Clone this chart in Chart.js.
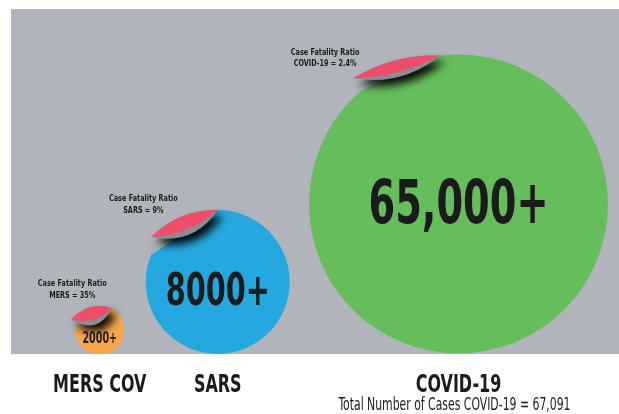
<!DOCTYPE html>
<html>
<head>
<meta charset="utf-8">
<script src="https://cdn.jsdelivr.net/npm/chart.js@4.4.1/dist/chart.umd.min.js"></script>
<style>
  body { margin: 0; background: #fff; }
</style>
</head>
<body>
<canvas id="bubbleChart" width="619" height="414"></canvas>
<script>
// values
const categories = ['MERS COV', 'SARS', 'COVID-19'];
const caseLabels = ['2000+', '8000+', '65,000+'];
const fatalityLabels = ['MERS = 35%', 'SARS = 9%', 'COVID-19 = 2.4%'];
const totalNote = 'Total Number of Cases COVID-19 = 67,091';
// bubble centre (x 0-100 across, y 0-100 up) and radius
const xValues = [14.6, 34.0, 73.6];
const yValues = [7.0, 20.9, 43.5];
const radii = [24.5, 72, 149.5];

const GRAY = '#b1b5bb';
const RED = '#ef4d6a';
const INK = '#1b1b1b';
const FONT = "'DejaVu Sans Condensed', 'Liberation Sans Narrow', sans-serif";
const SQUISH = 0.71;

// peeled corner of each bubble: chord angles (deg), flap turn/length/thickness,
// label offset from flap tip, number size and drop
const peel = [
  { a1: -175, a2: -61, rot: 12.5, k: 1.02, th: 13, lx: 1, ly: -22, num: 15, numDy: 13 },
  { a1: -158, a2: -90, rot: 11.8, k: 0.89, th: 14, lx: -8, ly: -24, num: 45, numDy: 23 },
  { a1: -131, a2: -97, rot: 9.4, k: 1.03, th: 12, lx: -28, ly: -12, num: 60, numDy: 19 }
];

function squishText(ctx, text, x, y, sx) {
  ctx.save();
  ctx.translate(x, y);
  ctx.scale(sx, 1);
  ctx.fillText(text, 0, 0);
  ctx.restore();
}

const peelPlugin = {
  id: 'peel',
  beforeDraw(chart) {
    const { ctx, chartArea: a } = chart;
    ctx.save();
    ctx.fillStyle = GRAY;
    ctx.fillRect(a.left, a.top, a.right - a.left, a.bottom - a.top);
    ctx.restore();
  },
  afterDatasetsDraw(chart) {
    const ctx = chart.ctx;
    const meta = chart.getDatasetMeta(0);
    meta.data.forEach((el, i) => {
      const cx = el.x, cy = el.y, r = el.options.radius;
      const p = peel[i];
      const t1 = p.a1 * Math.PI / 180, t2 = p.a2 * Math.PI / 180;
      const A = [cx + r * Math.cos(t1), cy + r * Math.sin(t1)];
      const B = [cx + r * Math.cos(t2), cy + r * Math.sin(t2)];

      ctx.save();
      // cut away the peeled cap
      ctx.beginPath();
      ctx.arc(cx, cy, r, t1, t2);
      ctx.closePath();
      ctx.fillStyle = GRAY;
      ctx.fill();

      // flap tip = chord end turned up around B
      const rot = p.rot * Math.PI / 180;
      const vx = A[0] - B[0], vy = A[1] - B[1];
      const L = [B[0] + p.k * (vx * Math.cos(rot) - vy * Math.sin(rot)),
                 B[1] + p.k * (vx * Math.sin(rot) + vy * Math.cos(rot))];
      const mx = (L[0] + B[0]) / 2, my = (L[1] + B[1]) / 2;
      let nx = -(B[1] - L[1]), ny = B[0] - L[0];
      const nl = Math.hypot(nx, ny);
      nx /= nl; ny /= nl;
      if ((mx - cx) * nx + (my - cy) * ny < 0) { nx = -nx; ny = -ny; }
      const up = p.th * 0.55 * 2, down = p.th * 0.45 * 2;

      // back of the flap with its shadow
      ctx.beginPath();
      ctx.moveTo(L[0], L[1]);
      ctx.quadraticCurveTo(mx + nx * up, my + ny * up, B[0], B[1]);
      ctx.quadraticCurveTo(mx - nx * down * 1.9, my - ny * down * 1.9, L[0], L[1]);
      ctx.shadowColor = 'rgba(0,0,0,0.95)';
      ctx.shadowBlur = 9;
      ctx.shadowOffsetX = 5;
      ctx.shadowOffsetY = 6;
      ctx.fillStyle = '#8a8d93';
      ctx.fill();
      ctx.shadowColor = 'transparent';

      // red flap
      ctx.beginPath();
      ctx.moveTo(L[0], L[1]);
      ctx.quadraticCurveTo(mx + nx * up, my + ny * up, B[0], B[1]);
      ctx.quadraticCurveTo(mx - nx * down, my - ny * down, L[0], L[1]);
      ctx.fillStyle = RED;
      ctx.fill();

      // texts
      ctx.fillStyle = INK;
      ctx.textAlign = 'center';
      ctx.textBaseline = 'alphabetic';
      ctx.font = 'bold ' + p.num + 'px ' + FONT;
      squishText(ctx, caseLabels[i], cx, cy + p.numDy, SQUISH);

      ctx.font = 'bold 9.5px ' + FONT;
      squishText(ctx, 'Case Fatality Ratio', L[0] + p.lx, L[1] + p.ly - 11.5, 0.76);
      squishText(ctx, fatalityLabels[i], L[0] + p.lx, L[1] + p.ly, 0.76);
      ctx.restore();
    });

    // category names under the bubbles
    const xs = chart.scales.x;
    ctx.save();
    ctx.fillStyle = INK;
    ctx.textAlign = 'center';
    ctx.textBaseline = 'alphabetic';
    ctx.font = 'bold 25px ' + FONT;
    categories.forEach((c, i) => {
      squishText(ctx, c, xs.getPixelForValue(xValues[i]), 392, SQUISH);
    });

    // note under COVID-19
    ctx.font = '18px ' + FONT;
    const w = ctx.measureText(totalNote).width;
    squishText(ctx, totalNote, xs.getPixelForValue(xValues[2]) - 4, 410, 232 / w);
    ctx.restore();
  }
};

const ctx = document.getElementById('bubbleChart');
const bubbleChart = new Chart(ctx, {
  type: 'bubble',
  data: {
    datasets: [{
      data: categories.map((c, i) => ({ x: xValues[i], y: yValues[i], r: radii[i] })),
      backgroundColor: ['#f8a84b', '#25a8e0', '#66bd5b'],
      borderWidth: 0,
      clip: 0
    }]
  },
  options: {
    responsive: false,
    animation: false,
    layout: { autoPadding: false, padding: { left: 11, top: 9, right: 0, bottom: 60 } },
    plugins: {
      legend: { display: false },
      tooltip: { enabled: false }
    },
    scales: {
      x: { display: false, min: 0, max: 100 },
      y: { display: false, min: 0, max: 100 }
    }
  },
  plugins: [peelPlugin]
});
</script>
</body>
</html>
